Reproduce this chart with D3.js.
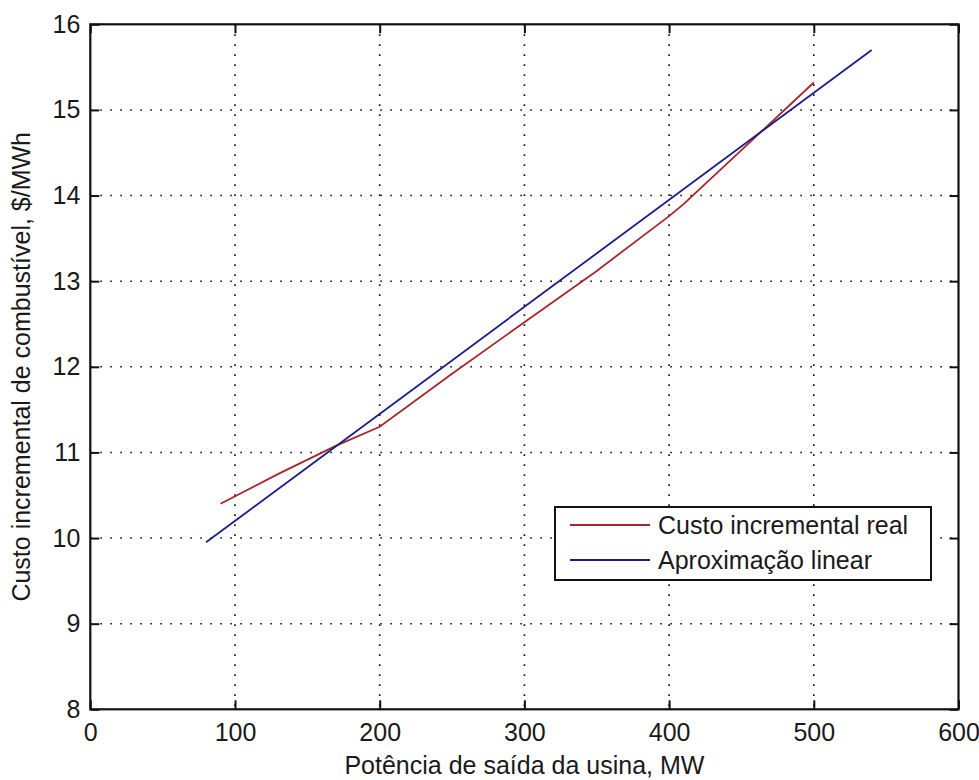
<!DOCTYPE html>
<html><head><meta charset="utf-8">
<script src="https://cdn.jsdelivr.net/npm/d3@7"></script>
<style>body{margin:0;background:#fff;}svg{display:block;}text{font-family:"Liberation Sans",Arial,sans-serif;fill:#1a1a1a;}</style>
</head><body>
<script>
const xTicks = [0,100,200,300,400,500,600];
const yTicks = [8,9,10,11,12,13,14,15,16];
const realX = [90,130,170,200,250,300,350,400,410,450,500];
const realY = [10.40,10.75,11.08,11.30,11.92,12.52,13.12,13.76,13.90,14.53,15.32];
const linX = [80,540];
const linY = [9.95,15.70];
const seriesNames = ["Custo incremental real","Aproximação linear"];
const seriesColors = ["#a8262c","#1c1c8c"];

const W=979,H=780;
const L=90.3,R=958.5,T=24.3,B=709.3;
const svg=d3.select("body").append("svg").attr("width",W).attr("height",H);
const x=d3.scaleLinear().domain([0,600]).range([L,R]);
const y=d3.scaleLinear().domain([8,16]).range([B,T]);
const fs=25;

// grid
const g=svg.append("g");
g.selectAll("line.gx").data(xTicks.slice(1,-1)).join("line")
 .attr("x1",d=>x(d)).attr("x2",d=>x(d)).attr("y1",T).attr("y2",B)
 .attr("stroke","#111").attr("stroke-width",1.6).attr("stroke-dasharray","1.6,8.4");
g.selectAll("line.gy").data(yTicks.slice(1,-1)).join("line")
 .attr("y1",d=>y(d)).attr("y2",d=>y(d)).attr("x1",L).attr("x2",R)
 .attr("stroke","#111").attr("stroke-width",1.6).attr("stroke-dasharray","1.6,8.4");

// lines
const line=d3.line().x(d=>x(d[0])).y(d=>y(d[1]));
svg.append("path").datum(realX.map((v,i)=>[v,realY[i]])).attr("d",line)
 .attr("fill","none").attr("stroke",seriesColors[0]).attr("stroke-width",1.8);
svg.append("path").datum(linX.map((v,i)=>[v,linY[i]])).attr("d",line)
 .attr("fill","none").attr("stroke",seriesColors[1]).attr("stroke-width",1.8);

// axes with inward ticks on all sides
const tk=9;
const ax=svg.append("g").attr("transform",`translate(0,${B})`)
 .call(d3.axisBottom(x).tickValues(xTicks).tickSize(-tk).tickPadding(14).tickFormat(d3.format("d")));
const axT=svg.append("g").attr("transform",`translate(0,${T})`)
 .call(d3.axisTop(x).tickValues(xTicks).tickSize(-tk).tickFormat(""));
const ay=svg.append("g").attr("transform",`translate(${L},0)`)
 .call(d3.axisLeft(y).tickValues(yTicks).tickSize(-tk).tickPadding(10).tickFormat(d3.format("d")));
const ayR=svg.append("g").attr("transform",`translate(${R},0)`)
 .call(d3.axisRight(y).tickValues(yTicks).tickSize(-tk).tickFormat(""));
[ax,axT,ay,ayR].forEach(a=>{
  a.select(".domain").remove();
  a.selectAll(".tick line").attr("stroke","#111").attr("stroke-width",2);
  a.selectAll(".tick text").attr("font-size",fs).attr("fill","#1a1a1a").style("font-family",'"Liberation Sans",Arial,sans-serif');
});
ax.selectAll(".tick text").attr("dy","0.71em");
svg.append("rect").attr("x",L).attr("y",T).attr("width",R-L).attr("height",B-T)
 .attr("fill","none").attr("stroke","#111").attr("stroke-width",2.2);

// axis labels
svg.append("text").attr("x",(L+R)/2).attr("y",774).attr("text-anchor","middle")
 .attr("font-size",fs).text("Potência de saída da usina, MW");
svg.append("text").attr("transform",`translate(30,${(T+B)/2}) rotate(-90)`).attr("text-anchor","middle")
 .attr("font-size",fs).text("Custo incremental de combustível, $/MWh");

// legend
const lg=svg.append("g");
lg.append("rect").attr("x",555).attr("y",507).attr("width",376).attr("height",73)
 .attr("fill","#fff").attr("stroke","#111").attr("stroke-width",2);
seriesNames.forEach((n,i)=>{
  const yy=525+i*35;
  lg.append("line").attr("x1",570).attr("x2",650).attr("y1",yy).attr("y2",yy)
   .attr("stroke",seriesColors[i]).attr("stroke-width",1.8);
  lg.append("text").attr("x",658).attr("y",yy+9).attr("font-size",fs).text(n);
});
</script>
</body></html>
